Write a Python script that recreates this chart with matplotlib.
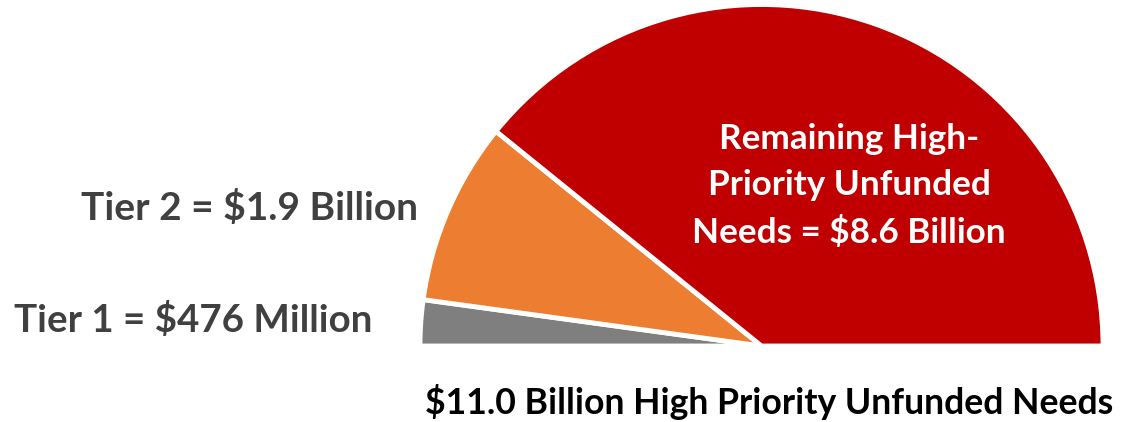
import matplotlib
matplotlib.use('Agg')
import matplotlib.pyplot as plt

# values in billions
tiers = ['Tier 1', 'Tier 2', 'Remaining']
amounts = [0.476, 1.9, 8.6]
total = 11.0
colors = ['#7f7f7f', '#ed7d31', '#c00000']
labels = ['Tier 1 = $476 Million', 'Tier 2 = $1.9 Billion',
          'Remaining High-\nPriority Unfunded\nNeeds = $8.6 Billion']
footer = '$11.0 Billion High Priority Unfunded Needs'

plt.rcParams['font.family'] = ['Lato', 'DejaVu Sans']

W, H = 1121, 422
fig = plt.figure(figsize=(W / 100, H / 100), dpi=100)
ax = fig.add_axes([0, 0, 1, 1])
ax.set_xlim(0, W)
ax.set_ylim(0, H)
ax.set_aspect('equal')
ax.axis('off')

cx, cy, r = 761.5, H - 346, 341.5
fracs = [a / (2 * sum(amounts)) for a in amounts]
ax.pie(fracs, colors=colors, startangle=180, counterclock=False,
       normalize=False, center=(cx, cy), radius=r,
       wedgeprops=dict(edgecolor='white', linewidth=3.5))
ax.set_xlim(0, W)
ax.set_ylim(0, H)

ax.text(372, H - 320, labels[0], ha='right', va='center',
        fontsize=27.7, fontweight='bold', color='#404040')
ax.text(418, H - 208, labels[1], ha='right', va='center',
        fontsize=28, fontweight='bold', color='#404040')
ax.text(849, H - 186, labels[2], ha='center', va='center',
        fontsize=25.3, fontweight='bold', color='white', linespacing=1.55)
ax.text(769, H - 402, footer, ha='center', va='center',
        fontsize=25.7, fontweight='bold', color='black')

fig.savefig('out.png', dpi=100)
